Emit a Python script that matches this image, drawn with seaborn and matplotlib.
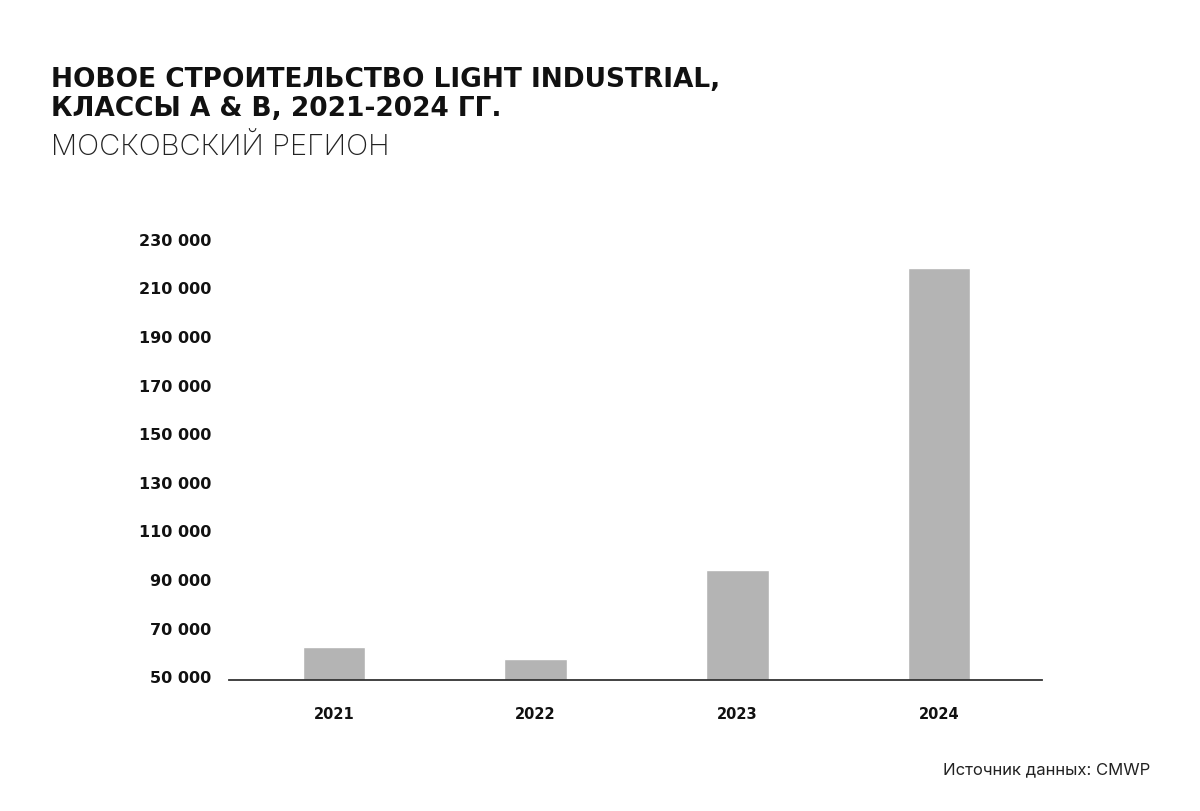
import pandas as pd
import numpy as np

import matplotlib.pyplot as plt
import seaborn as sns
from matplotlib.transforms import ScaledTranslation


# данные
years = ['2021', '2022', '2023', '2024']
values = [63500, 58600, 95000, 219500]
y_ticks = [50000, 70000, 90000, 110000, 130000, 150000, 170000, 190000, 210000, 230000]

title_lines = ['НОВОЕ СТРОИТЕЛЬСТВО LIGHT INDUSTRIAL,', 'КЛАССЫ А & В, 2021-2024 ГГ.']
subtitle = 'МОСКОВСКИЙ РЕГИОН'
source = 'Источник данных: CMWP'

sns.set_style('white')
plt.rcParams['font.family'] = ['Inter', 'DejaVu Sans']
bold_font = ['DejaVu Sans']

df = pd.DataFrame({'year': years, 'value': values})

fig = plt.figure(figsize=(12, 8.12), dpi=100)
ax = fig.add_axes([0.1908, 0.1617, 0.6775, 0.5387])

sns.barplot(data=df, x='year', y='value', color='#b4b4b4', saturation=1,
            width=0.31, ax=ax)

ax.set_ylim(50000, 230000)
ax.set_xlim(-0.52, 3.51)
ax.set_yticks(y_ticks)
ax.set_yticklabels([f'{v:,}'.replace(',', ' ') for v in y_ticks])
ax.set_xlabel('')
ax.set_ylabel('')

for side in ['top', 'right', 'left']:
    ax.spines[side].set_visible(False)
ax.spines['bottom'].set_color('#333333')
ax.spines['bottom'].set_linewidth(1.3)

ax.tick_params(axis='y', length=0, pad=13, labelsize=11.5, labelcolor='#111111')
ax.tick_params(axis='x', length=0, pad=19, labelsize=10.5, labelcolor='#111111')
for lbl in ax.get_yticklabels() + ax.get_xticklabels():
    lbl.set_fontweight('bold')
    lbl.set_family(bold_font)
# подписи оси Y чуть выше делений, как в оригинале
for lbl in ax.get_yticklabels():
    lbl.set_transform(lbl.get_transform() + ScaledTranslation(0, 0.035, fig.dpi_scale_trans))

# заголовок
fig.text(0.0425, 1 - 86.7 / 812, title_lines[0], fontsize=19, fontweight='bold',
         family=bold_font, color='#111111', va='baseline', ha='left')
fig.text(0.0425, 1 - 116.5 / 812, title_lines[1], fontsize=19, fontweight='bold',
         family=bold_font, color='#111111', va='baseline', ha='left')
fig.text(0.0425, 1 - 155 / 812, subtitle, fontsize=21, fontweight='light',
         color='#222222', va='baseline', ha='left')

fig.text(1 - 50 / 1200, 1 - 774 / 812, source, fontsize=12, color='#222222',
         va='baseline', ha='right')

fig.savefig('out.png', dpi=100, facecolor='white')
